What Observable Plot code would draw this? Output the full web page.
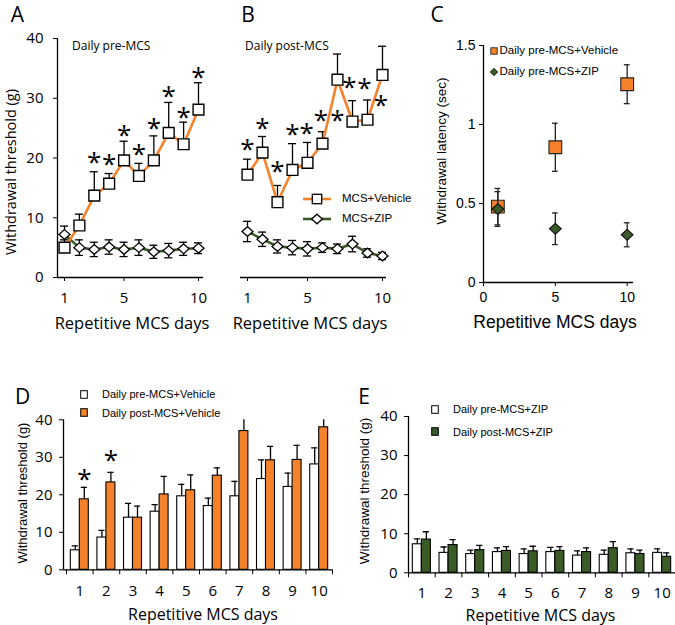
<!DOCTYPE html>
<html>
<head>
<meta charset="utf-8">
<script src="https://cdn.jsdelivr.net/npm/d3@7"></script>
<script src="https://cdn.jsdelivr.net/npm/@observablehq/plot@0.6"></script>
<style>
  html, body { margin: 0; padding: 0; background: #fff; }
  #root { position: relative; width: 675px; height: 625px; overflow: hidden; background: #fff; color: #000; }
  .lbl { position: absolute; white-space: nowrap; line-height: 1; }
  .panel { position: absolute; }
</style>
</head>
<body>
<div id="root"></div>
<script>
// ---------------- data ----------------
const days = [1, 2, 3, 4, 5, 6, 7, 8, 9, 10];

// Panel A: Daily pre-MCS
const aVehicle    = [5.0, 8.7, 13.7, 15.7, 19.6, 17.0, 19.6, 24.2, 22.3, 28.1];
const aVehicleTop = [6.3, 10.6, 17.7, 17.4, 22.8, 19.1, 23.7, 29.3, 26.0, 32.6];
const aZip        = [7.2, 5.0, 4.7, 5.1, 4.7, 5.0, 4.3, 4.5, 4.8, 4.9];
const aZipErr     = [1.4, 1.3, 1.2, 1.2, 1.2, 1.3, 1.1, 1.2, 1.1, 0.9];
const aStarDay    = [3, 4, 5, 6, 7, 8, 9, 10];
const aStarY      = [20.4, 20.1, 24.9, 21.8, 26.0, 31.4, 27.9, 34.6];

// Panel B: Daily post-MCS
const bVehicle    = [17.2, 20.9, 12.6, 18.0, 19.2, 22.4, 33.1, 26.1, 26.4, 33.9];
const bVehicleTop = [19.8, 23.6, 15.4, 22.4, 22.6, 24.4, 37.4, 29.6, 29.7, 38.7];
const bZip        = [7.7, 6.4, 5.2, 5.0, 4.8, 5.0, 4.8, 5.6, 4.1, 3.6];
const bZipErr     = [1.7, 1.2, 1.1, 1.2, 1.2, 0.8, 0.8, 1.3, 0.7, 0.6];
const bStarDay    = [1, 2, 3, 4, 4.95, 5.9, 7.0, 7.8, 8.8, 9.9];
const bStarY      = [22.6, 26.0, 18.9, 25.0, 25.2, 27.4, 27.4, 32.9, 32.7, 29.9];

// Panel C: withdrawal latency
const cDays       = [1, 5, 10];
const cVehicle    = [0.48, 0.856, 1.255];
const cVehicleErr = [0.115, 0.152, 0.123];
const cZip        = [0.465, 0.34, 0.302];
const cZipErr     = [0.11, 0.1, 0.076];

// Panel D: vehicle, pre vs post
const dPre     = [5.2, 8.6, 13.9, 15.5, 19.6, 17.0, 19.6, 24.2, 22.1, 28.1];
const dPreTop  = [6.4, 10.5, 17.7, 17.4, 22.8, 19.1, 23.6, 29.3, 25.8, 32.5];
const dPost    = [18.8, 23.3, 13.9, 20.1, 21.2, 25.1, 37.0, 29.2, 29.3, 38.0];
const dPostTop = [22.0, 26.0, 17.0, 24.9, 25.3, 27.2, 41.5, 32.9, 33.2, 41.0];
const dStarDay = [1, 2];
const dStarY   = [26.0, 31.1];

// Panel E: ZIP, pre vs post
const ePre     = [7.3, 5.1, 4.8, 5.3, 4.8, 5.3, 4.4, 4.6, 5.0, 5.1];
const ePreTop  = [8.7, 6.6, 5.8, 6.4, 6.1, 6.5, 5.6, 5.8, 6.1, 6.1];
const ePost    = [8.5, 7.1, 5.8, 5.6, 5.5, 5.6, 5.3, 6.3, 4.8, 4.1];
const ePostTop = [10.5, 8.5, 7.0, 6.7, 6.8, 6.7, 6.4, 8.0, 5.8, 5.1];

const yTicks40 = [0, 10, 20, 30, 40];
const xTicksLine = [1, 5, 10];
const xTicksC = [0, 5, 10];
const yTicksC = [0, 0.5, 1, 1.5];

// ---------------- styling ----------------
const ORANGE = "#F5822A";
const GREEN = "#3A5A27";
const SEGOE = "'Open Sans', 'Noto Sans', sans-serif";
const ARIAL = "'Liberation Sans', Arial, sans-serif";

const diamond = (ratio) => ({
  draw(ctx, size) {
    const w = Math.sqrt(size / 2), h = w * ratio;
    ctx.moveTo(0, -h); ctx.lineTo(w, 0); ctx.lineTo(0, h); ctx.lineTo(-w, 0); ctx.closePath();
  }
});

const root = document.getElementById("root");

function place(node, left, top) {
  const wrap = document.createElement("div");
  wrap.className = "panel";
  wrap.style.left = left + "px";
  wrap.style.top = top + "px";
  wrap.append(node);
  root.append(wrap);
}

function label(text, x, y, {size = 12, family = SEGOE, anchor = "middle", rotate = 0, weight = "normal"} = {}) {
  const el = document.createElement("div");
  el.className = "lbl";
  el.textContent = text;
  el.style.left = x + "px";
  el.style.top = y + "px";
  el.style.fontSize = size + "px";
  el.style.fontFamily = family;
  el.style.fontWeight = weight;
  const tx = anchor === "start" ? "0" : "-50%";
  el.style.transform = `translate(${tx}, -50%)` + (rotate ? ` rotate(${rotate}deg)` : "");
  root.append(el);
}

function swatch(svgInner, x, y, w, h) {
  const el = document.createElement("div");
  el.className = "lbl";
  el.style.left = (x - w / 2) + "px";
  el.style.top = (y - h / 2) + "px";
  el.innerHTML = `<svg width="${w}" height="${h}" viewBox="${-w/2} ${-h/2} ${w} ${h}" style="display:block;overflow:visible">${svgInner}</svg>`;
  root.append(el);
}

const baseStyle = (family) => ({fontFamily: family, background: "transparent", overflow: "visible", color: "#000"});

// ---------------- Panel A & B (line charts) ----------------
function linePanel({veh, vehTop, zip, zipErr, starDay, starY, xDomain, width, marginLeft, marginRight, showY}) {
  const rows = days.map((d, i) => ({day: d, v: veh[i], top: vehTop[i], z: zip[i], ze: zipErr[i]}));
  const stars = starDay.map((d, i) => ({day: d, y: starY[i]}));
  const cap = 0.27;
  const marks = [
    Plot.ruleY([0], {stroke: "#000", strokeWidth: 1.3}),
    Plot.axisX({ticks: xTicksLine, tickSize: 4, tickPadding: 11, fontSize: 15, label: null, tickFormat: d => String(d)}),
    // ZIP error bars (both directions)
    Plot.ruleX(rows, {x: "day", y1: d => d.z - d.ze, y2: d => d.z + d.ze, stroke: "#000", strokeWidth: 1.3}),
    Plot.ruleY(rows, {y: d => d.z + d.ze, x1: d => d.day - cap, x2: d => d.day + cap, stroke: "#000", strokeWidth: 1.3}),
    Plot.ruleY(rows, {y: d => d.z - d.ze, x1: d => d.day - cap, x2: d => d.day + cap, stroke: "#000", strokeWidth: 1.3}),
    // Vehicle error bars (upper)
    Plot.ruleX(rows, {x: "day", y1: "v", y2: "top", stroke: "#000", strokeWidth: 1.3}),
    Plot.ruleY(rows, {y: "top", x1: d => d.day - cap, x2: d => d.day + cap, stroke: "#000", strokeWidth: 1.3}),
    Plot.line(rows, {x: "day", y: "z", stroke: GREEN, strokeWidth: 2.6}),
    Plot.line(rows, {x: "day", y: "v", stroke: ORANGE, strokeWidth: 2.6}),
    Plot.dot(rows, {x: "day", y: "z", symbol: diamond(0.88), r: 4.4, fill: "#fff", stroke: "#000", strokeWidth: 1.3}),
    Plot.dot(rows, {x: "day", y: "v", symbol: "square", r: 6.1, fill: "#fff", stroke: "#000", strokeWidth: 1.4}),
    Plot.text(stars, {x: "day", y: "y", text: () => "*", fontSize: 26, dy: 7, fill: "#000"})
  ];
  if (showY) {
    marks.unshift(Plot.ruleX([xDomain[0]], {stroke: "#000", strokeWidth: 1.3}));
    marks.push(Plot.axisY({ticks: yTicks40, tickSize: 4, tickPadding: 10, fontSize: 15, label: null}));
  }
  return Plot.plot({
    width, height: 335, marginLeft, marginRight, marginTop: 38, marginBottom: 58,
    style: baseStyle(SEGOE),
    x: {domain: xDomain},
    y: {domain: [0, 40], ...(showY ? {} : {axis: null})},
    marks
  });
}

place(linePanel({veh: aVehicle, vehTop: aVehicleTop, zip: aZip, zipErr: aZipErr, starDay: aStarDay, starY: aStarY,
  xDomain: [0.53, 10.336], width: 215, marginLeft: 57, marginRight: 12, showY: true}), 0, 0);

place(linePanel({veh: bVehicle, vehTop: bVehicleTop, zip: bZip, zipErr: bZipErr, starDay: bStarDay, starY: bStarY,
  xDomain: [0.533, 10.267], width: 180, marginLeft: 20, marginRight: 14, showY: false}), 220, 0);

// ---------------- Panel C ----------------
{
  const veh = cDays.map((d, i) => ({day: d, v: cVehicle[i], e: cVehicleErr[i]}));
  const zip = cDays.map((d, i) => ({day: d, v: cZip[i], e: cZipErr[i]}));
  const cap = 0.2;
  const errMarks = (rows) => [
    Plot.ruleX(rows, {x: "day", y1: d => d.v - d.e, y2: d => d.v + d.e, stroke: "#222", strokeWidth: 1.3}),
    Plot.ruleY(rows, {y: d => d.v + d.e, x1: d => d.day - cap, x2: d => d.day + cap, stroke: "#222", strokeWidth: 1.3}),
    Plot.ruleY(rows, {y: d => d.v - d.e, x1: d => d.day - cap, x2: d => d.day + cap, stroke: "#222", strokeWidth: 1.3})
  ];
  const chart = Plot.plot({
    width: 255, height: 335, marginLeft: 63, marginRight: 42, marginTop: 45, marginBottom: 53,
    style: baseStyle(ARIAL),
    x: {domain: [0, 10.44]},
    y: {domain: [0, 1.5]},
    marks: [
      Plot.ruleX([0], {stroke: "#000", strokeWidth: 1.3}),
      Plot.ruleY([0], {stroke: "#000", strokeWidth: 1.3}),
      Plot.axisX({ticks: xTicksC, tickSize: 4, tickPadding: 6, fontSize: 14, label: null, tickFormat: d => String(d)}),
      Plot.axisY({ticks: yTicksC, tickSize: 4, tickPadding: 4, fontSize: 14, label: null, tickFormat: d => String(d)}),
      ...errMarks(veh),
      Plot.dot(veh, {x: "day", y: "v", symbol: "square", r: 7.2, fill: ORANGE, stroke: "#222", strokeWidth: 1.1}),
      ...errMarks(zip),
      Plot.dot(zip, {x: "day", y: "v", symbol: diamond(0.92), r: 4.7, fill: GREEN, stroke: "#111", strokeWidth: 1.1})
    ]
  });
  place(chart, 420, 0);
}

// ---------------- Panels D & E (grouped bars) ----------------
function barPanel({pre, preTop, post, postTop, postColor, xDomain, width, marginLeft, marginRight, marginTop, marginBottom, stars, tickPadding}) {
  const rows = days.map((d, i) => ({day: d, pre: pre[i], preTop: preTop[i], post: post[i], postTop: postTop[i]}));
  const bw = 0.338, half = bw / 2, cap = 0.115;
  const bounds = d3.range(11).map(i => i + 0.5);
  const marks = [
    Plot.rect(rows, {x1: d => d.day - bw, x2: "day", y1: () => 0, y2: "pre", fill: "#fff", stroke: "#000", strokeWidth: 1.1}),
    Plot.rect(rows, {x1: "day", x2: d => d.day + bw, y1: () => 0, y2: "post", fill: postColor, stroke: "#000", strokeWidth: 1.1}),
    Plot.ruleX(rows, {x: d => d.day - half, y1: "pre", y2: "preTop", stroke: "#000", strokeWidth: 1.3, clip: true}),
    Plot.ruleY(rows, {y: "preTop", x1: d => d.day - half - cap, x2: d => d.day - half + cap, stroke: "#000", strokeWidth: 1.3, clip: true}),
    Plot.ruleX(rows, {x: d => d.day + half, y1: "post", y2: "postTop", stroke: "#000", strokeWidth: 1.3, clip: true}),
    Plot.ruleY(rows, {y: "postTop", x1: d => d.day + half - cap, x2: d => d.day + half + cap, stroke: "#000", strokeWidth: 1.3, clip: true}),
    Plot.ruleX([xDomain[0]], {stroke: "#000", strokeWidth: 1.3}),
    Plot.ruleY([0], {stroke: "#000", strokeWidth: 1.3}),
    Plot.axisX({ticks: bounds, tickSize: 5, tickFormat: () => "", label: null}),
    Plot.axisX({ticks: days, tickSize: 0, tickPadding, fontSize: 15, label: null, tickFormat: d => String(d)}),
    Plot.axisY({ticks: yTicks40, tickSize: 4, tickPadding: 7, fontSize: 15, label: null})
  ];
  if (stars) marks.push(Plot.text(stars, {x: d => d.day + half, y: "y", text: () => "*", fontSize: 26, dy: 7, fill: "#000"}));
  return Plot.plot({
    width, height: 295, marginLeft, marginRight, marginTop, marginBottom,
    style: baseStyle(SEGOE),
    x: {domain: xDomain},
    y: {domain: [0, 40]},
    marks
  });
}

place(barPanel({pre: dPre, preTop: dPreTop, post: dPost, postTop: dPostTop, postColor: ORANGE,
  xDomain: [0.387, 10.5], width: 340, marginLeft: 63, marginRight: 8, marginTop: 89.3, marginBottom: 55.7,
  stars: dStarDay.map((d, i) => ({day: d, y: dStarY[i]})), tickPadding: 16}), 0, 330);

place(barPanel({pre: ePre, preTop: ePreTop, post: ePost, postTop: ePostTop, postColor: GREEN,
  xDomain: [0.5, 10.5], width: 335, marginLeft: 68, marginRight: 0, marginTop: 86, marginBottom: 52.7,
  stars: null, tickPadding: 14.5}), 340, 330);

// ---------------- texts & legends ----------------
label("A", 17.5, 14, {size: 21});
label("B", 248, 14, {size: 21});
label("C", 437, 14, {size: 21});
label("D", 22.5, 396, {size: 21});
label("E", 364, 396, {size: 21});

label("Daily pre-MCS", 72, 46, {size: 12, anchor: "start"});
label("Daily post-MCS", 245, 46, {size: 12, anchor: "start"});

label("Withdrawal threshold (g)", 11, 172, {size: 14.5, rotate: -90});
label("Repetitive MCS days", 132, 323, {size: 16.5});
label("Repetitive MCS days", 310, 323, {size: 16.5});
label("Repetitive MCS days", 555, 323, {size: 17.5, family: ARIAL});
label("Withdrawal latency (sec)", 442, 151, {size: 13.5, family: ARIAL, rotate: -90});

label("Withdrawal threshold (g)", 22, 493, {size: 13, family: ARIAL, rotate: -90});
label("Repetitive MCS days", 203, 614, {size: 16});
label("Withdrawal threshold (g)", 365, 491, {size: 13.5, family: ARIAL, rotate: -90});
label("Repetitive MCS days", 540.5, 615, {size: 16});

// Legend B
swatch(`<line x1="-14" x2="14" y1="0" y2="0" stroke="${ORANGE}" stroke-width="2.6"/><rect x="-4.7" y="-4.7" width="9.4" height="9.4" fill="#fff" stroke="#000" stroke-width="1.3"/>`, 316.7, 199.3, 30, 12);
label("MCS+Vehicle", 342, 199.3, {size: 11.5, family: ARIAL, anchor: "start"});
swatch(`<line x1="-14" x2="14" y1="0" y2="0" stroke="${GREEN}" stroke-width="2.6"/><path d="M0,-4.8L5.4,0L0,4.8L-5.4,0Z" fill="#fff" stroke="#000" stroke-width="1.3"/>`, 316.7, 219.3, 30, 12);
label("MCS+ZIP", 342, 219.3, {size: 11.5, family: ARIAL, anchor: "start"});

// Legend C
swatch(`<rect x="-3.2" y="-3.2" width="6.4" height="6.4" fill="${ORANGE}" stroke="#222" stroke-width="0.9"/>`, 494, 51, 8, 8);
label("Daily pre-MCS+Vehicle", 499.5, 51, {size: 11.5, family: ARIAL, anchor: "start"});
swatch(`<path d="M0,-3.6L3.8,0L0,3.6L-3.8,0Z" fill="${GREEN}" stroke="#111" stroke-width="0.9"/>`, 494, 72, 8, 8);
label("Daily pre-MCS+ZIP", 499.5, 72, {size: 11.5, family: ARIAL, anchor: "start"});

// Legend D
swatch(`<rect x="-3.3" y="-3.8" width="6.6" height="7.6" fill="#fff" stroke="#000" stroke-width="1"/>`, 84, 394, 8, 9);
label("Daily pre-MCS+Vehicle", 102, 394, {size: 11, family: ARIAL, anchor: "start"});
swatch(`<rect x="-3.3" y="-3.8" width="6.6" height="7.6" fill="${ORANGE}" stroke="#000" stroke-width="1"/>`, 84, 412.7, 8, 9);
label("Daily post-MCS+Vehicle", 102, 412.7, {size: 11, family: ARIAL, anchor: "start"});

// Legend E
swatch(`<rect x="-3.3" y="-3.8" width="6.6" height="7.6" fill="#fff" stroke="#000" stroke-width="1"/>`, 435, 409, 8, 9);
label("Daily pre-MCS+ZIP", 453, 409, {size: 11, family: ARIAL, anchor: "start"});
swatch(`<rect x="-3.3" y="-3.8" width="6.6" height="7.6" fill="${GREEN}" stroke="#000" stroke-width="1"/>`, 435, 431.7, 8, 9);
label("Daily post-MCS+ZIP", 453, 431.7, {size: 11, family: ARIAL, anchor: "start"});
</script>
</body>
</html>
